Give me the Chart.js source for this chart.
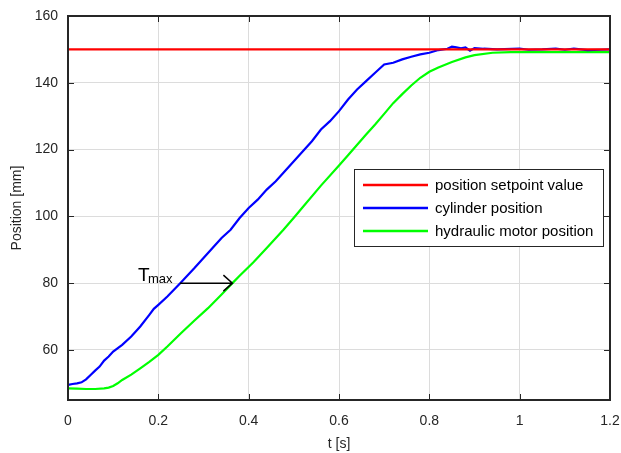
<!DOCTYPE html>
<html>
<head>
<meta charset="utf-8">
<script src="https://cdn.jsdelivr.net/npm/chart.js@4.4.1/dist/chart.umd.min.js"></script>
<style>
  html, body { margin: 0; padding: 0; background: #fff; }
  #wrap { width: 621px; height: 453px; }
</style>
</head>
<body>
<div id="wrap"><canvas id="chart" width="621" height="453"></canvas></div>
<script>
// ---- Data ----
const setpointT = [0, 1.2];
const setpointY = [150, 150];

const cylinderT = [0, 0.01, 0.02, 0.03, 0.04, 0.05, 0.06, 0.07, 0.08, 0.09, 0.10, 0.12, 0.14, 0.16, 0.18, 0.19, 0.20, 0.22, 0.25, 0.28, 0.30, 0.32, 0.34, 0.36, 0.38, 0.40, 0.42, 0.44, 0.46, 0.48, 0.50, 0.52, 0.54, 0.56, 0.58, 0.60, 0.62, 0.64, 0.66, 0.68, 0.70, 0.72, 0.74, 0.76, 0.78, 0.80, 0.82, 0.84, 0.85, 0.86, 0.87, 0.88, 0.89, 0.90, 0.92, 0.95, 1.00, 1.02, 1.05, 1.08, 1.10, 1.12, 1.15, 1.18, 1.20];
const cylinderY = [49.5, 49.8, 50.0, 50.3, 51.2, 52.5, 53.8, 55.0, 56.8, 58.0, 59.5, 61.5, 64.0, 67.0, 70.5, 72.3, 73.5, 76.0, 80.2, 84.5, 87.5, 90.5, 93.5, 96.0, 99.5, 102.5, 105.0, 108.0, 110.5, 113.5, 116.5, 119.5, 122.5, 126.0, 128.5, 131.5, 135.0, 138.0, 140.5, 143.0, 145.5, 146.0, 147.0, 147.8, 148.5, 149.0, 149.8, 150.2, 150.8, 150.6, 150.3, 150.6, 149.6, 150.4, 150.2, 150.0, 150.2, 149.9, 150.0, 150.2, 149.9, 150.2, 149.8, 149.9, 150.0];

const motorT = [0, 0.02, 0.04, 0.06, 0.08, 0.09, 0.10, 0.11, 0.12, 0.14, 0.16, 0.18, 0.20, 0.22, 0.25, 0.28, 0.31, 0.34, 0.364, 0.38, 0.41, 0.44, 0.477, 0.50, 0.52, 0.56, 0.60, 0.62, 0.66, 0.68, 0.70, 0.72, 0.74, 0.76, 0.78, 0.80, 0.82, 0.85, 0.88, 0.90, 0.94, 0.98, 1.00, 1.20];
const motorY = [48.5, 48.4, 48.3, 48.3, 48.5, 48.7, 49.2, 50.0, 51.0, 52.6, 54.5, 56.4, 58.5, 61.0, 65.0, 68.8, 72.5, 76.6, 80.0, 82.2, 86.2, 90.5, 96.0, 99.6, 102.8, 109.2, 115.2, 118.3, 124.5, 127.5, 130.7, 133.9, 136.6, 139.2, 141.5, 143.3, 144.6, 146.2, 147.6, 148.3, 149.0, 149.2, 149.2, 149.2];

const seriesLabels = ["position setpoint value", "cylinder position", "hydraulic motor position"];
const seriesColors = ["#ff0000", "#0000ff", "#00ff00"];

const xTicks = [0, 0.2, 0.4, 0.6, 0.8, 1, 1.2];
const yTicks = [60, 80, 100, 120, 140, 160];

// T_max arrow: from cylinder to motor at the same position
const tmaxT = [0.248, 0.364];
const tmaxY = 80;

const FONT = "'Liberation Sans', Arial, sans-serif";
const TEXT = "#262626";

function pts(ts, ys) {
  return ts.map((t, i) => ({ x: t, y: ys[i] }));
}

// ---- MATLAB-style frame: inward ticks on all four sides, box, legend, annotation ----
const matlabFrame = {
  id: "matlabFrame",
  afterDatasetsDraw(chart) {
    const { ctx, chartArea: a, scales } = chart;
    const len = 6;
    ctx.save();
    ctx.strokeStyle = TEXT;
    ctx.lineWidth = 1;
    ctx.beginPath();
    xTicks.forEach((v) => {
      const px = Math.round(scales.x.getPixelForValue(v)) + 0.5;
      ctx.moveTo(px, a.bottom); ctx.lineTo(px, a.bottom - len);
      ctx.moveTo(px, a.top); ctx.lineTo(px, a.top + len);
    });
    yTicks.forEach((v) => {
      const py = Math.round(scales.y.getPixelForValue(v)) + 0.5;
      ctx.moveTo(a.left, py); ctx.lineTo(a.left + len, py);
      ctx.moveTo(a.right, py); ctx.lineTo(a.right - len, py);
    });
    ctx.stroke();

    ctx.lineWidth = 2;
    ctx.strokeRect(a.left, a.top, a.right - a.left, a.bottom - a.top);

    // T_max arrow
    const y = scales.y.getPixelForValue(tmaxY);
    const x0 = scales.x.getPixelForValue(tmaxT[0]);
    const x1 = scales.x.getPixelForValue(tmaxT[1]);
    ctx.strokeStyle = "#000";
    ctx.lineWidth = 1.5;
    ctx.beginPath();
    ctx.moveTo(x0, y); ctx.lineTo(x1, y);
    ctx.moveTo(x1 - 9, y - 8); ctx.lineTo(x1, y); ctx.lineTo(x1 - 9, y + 8);
    ctx.stroke();

    ctx.fillStyle = "#000";
    ctx.textBaseline = "alphabetic";
    ctx.textAlign = "left";
    ctx.font = "19px " + FONT;
    ctx.fillText("T", 138, y - 2);
    ctx.font = "13px " + FONT;
    ctx.fillText("max", 148, y);

    // legend box
    const lx = 354, ly = 169, lw = 249, lh = 77;
    ctx.fillStyle = "#fff";
    ctx.fillRect(lx, ly, lw, lh);
    ctx.strokeStyle = TEXT;
    ctx.lineWidth = 1;
    ctx.strokeRect(lx + 0.5, ly + 0.5, lw, lh);
    ctx.font = "15px " + FONT;
    ctx.textBaseline = "middle";
    seriesLabels.forEach((lab, i) => {
      const ry = ly + 16 + i * 23;
      ctx.strokeStyle = seriesColors[i];
      ctx.lineWidth = 2.5;
      ctx.beginPath();
      ctx.moveTo(363, ry); ctx.lineTo(428, ry);
      ctx.stroke();
      ctx.fillStyle = "#000";
      ctx.fillText(lab, 435, ry + 1);
    });
    ctx.restore();
  }
};

new Chart(document.getElementById("chart"), {
  type: "line",
  data: {
    datasets: [
      { label: seriesLabels[0], data: pts(setpointT, setpointY) },
      { label: seriesLabels[1], data: pts(cylinderT, cylinderY) },
      { label: seriesLabels[2], data: pts(motorT, motorY) }
    ].map((ds, i) => ({
      ...ds,
      borderColor: seriesColors[i],
      backgroundColor: seriesColors[i],
      borderWidth: 2.2,
      pointRadius: 0,
      tension: 0,
      fill: false
    }))
  },
  options: {
    responsive: false,
    animation: false,
    layout: { padding: { left: 0, top: 16, right: 11, bottom: 0 } },
    plugins: {
      legend: { display: false },
      tooltip: { enabled: false }
    },
    scales: {
      x: {
        type: "linear",
        min: 0,
        max: 1.2,
        afterBuildTicks: (s) => { s.ticks = xTicks.map((v) => ({ value: v })); },
        afterFit: (s) => { s.height = 53; s.paddingLeft = 0; s.paddingRight = 0; },
        grid: { color: "#dcdcdc", drawTicks: false },
        border: { display: false },
        ticks: {
          padding: 13,
          color: TEXT,
          font: { family: FONT, size: 14 },
          callback: (v) => String(Math.round(v * 10) / 10)
        },
        title: {
          display: true,
          text: "t [s]",
          color: TEXT,
          font: { family: FONT, size: 14 },
          padding: { top: 0, bottom: 0 }
        }
      },
      y: {
        min: 45,
        max: 160,
        afterBuildTicks: (s) => { s.ticks = yTicks.map((v) => ({ value: v })); },
        afterFit: (s) => { s.width = 68; s.paddingTop = 0; s.paddingBottom = 0; },
        grid: { color: "#dcdcdc", drawTicks: false },
        border: { display: false },
        ticks: {
          padding: 10,
          color: TEXT,
          font: { family: FONT, size: 14 }
        },
        title: {
          display: true,
          text: "Position [mm]",
          color: TEXT,
          font: { family: FONT, size: 14 },
          padding: { bottom: 0, top: 9 }
        }
      }
    }
  },
  plugins: [matlabFrame]
});
</script>
</body>
</html>
